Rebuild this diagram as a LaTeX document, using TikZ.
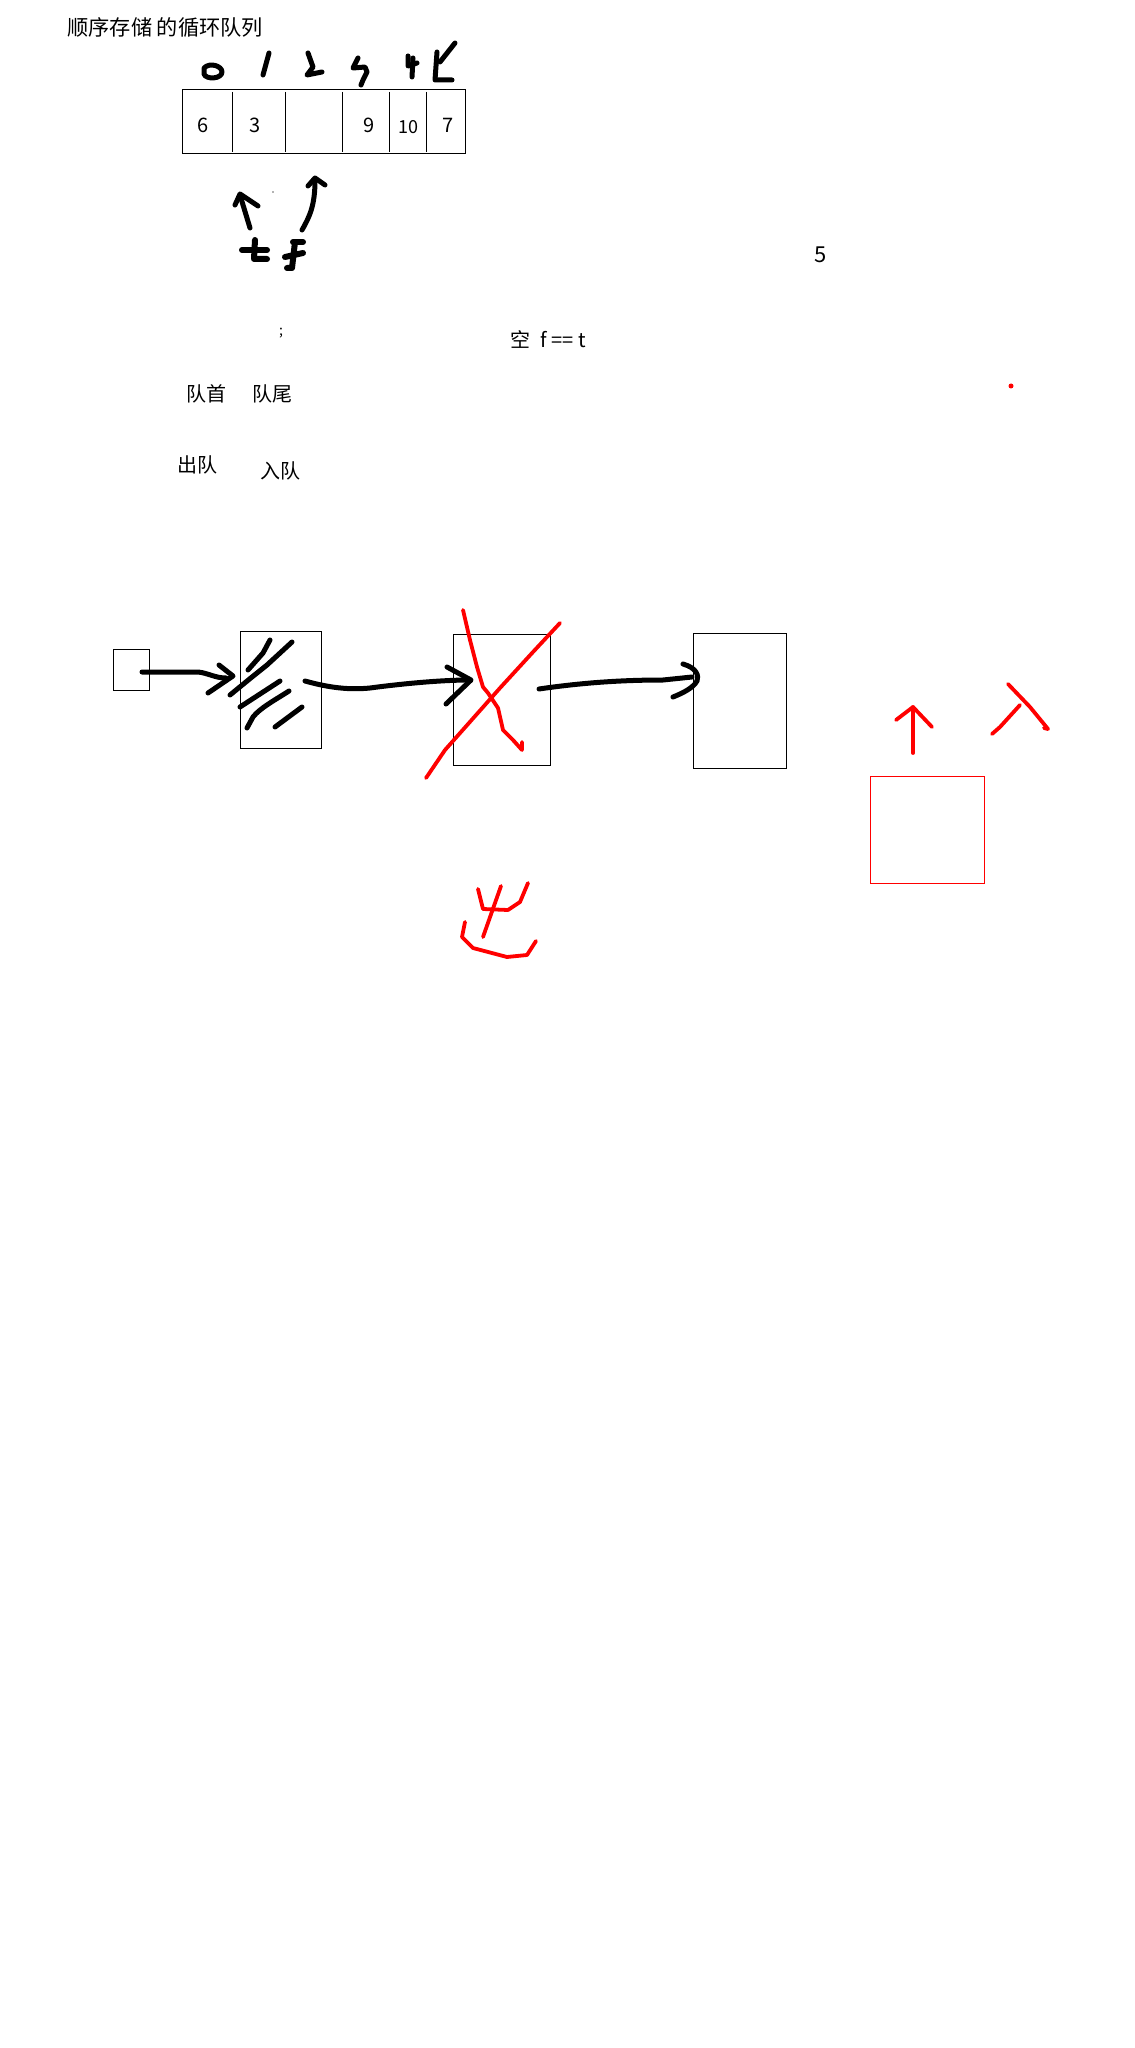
\documentclass[tikz,border=0pt]{standalone}
\usepackage{fontspec}
\setmainfont{Noto Sans CJK SC}
\usepackage{xcolor}
\usetikzlibrary{positioning,calc}
\definecolor{Ink}{HTML}{000000}
\definecolor{Pen}{HTML}{FF0000}
\tikzset{
  cellbox/.style={draw=Ink, line width=0.5pt, inner sep=0pt},
  redbox/.style={draw=Pen, line width=0.5pt, inner sep=0pt},
  inkpen/.style={draw=Ink, line width=2.5pt, line cap=round, line join=round},
  redpen/.style={draw=Pen, line width=1.9pt, line cap=round, line join=round},
  plaintext/.style={inner sep=0pt, text=Ink, font=\fontsize{10}{12}\selectfont},
}

\begin{document}
\begin{tikzpicture}[x=0.5pt,y=-0.5pt]
\path[use as bounding box,fill=white] (0,0) rectangle (1134,2048);

% title
\node[plaintext,anchor=west,font=\fontsize{10.6}{12}\selectfont] (title) at (67,27) {顺序存储 的循环队列};

% array with its cells
\node[cellbox,minimum width=141.5pt,minimum height=32pt] (arr) at (323.5,122) {};
\foreach \x in {232,285,342,389,426}{
  \draw[Ink,line width=0.5pt] (\x,92) -- (\x,152);
}
\foreach \x/\v/\nm in {203/6/c0,255/3/c1,369/9/c3,448/7/c5}{
  \node[plaintext] (\nm) at (\x,125) {\v};
}
\node[plaintext,font=\fontsize{9}{11}\selectfont] (c4) at (408,127) {10};

% handwritten indices
\draw[inkpen] (204,68) .. controls (210,62) and (222,66) .. (222,72) .. controls (222,79) and (206,80) .. (204,74) -- cycle;
\draw[inkpen] (269,53) -- (263,75);
\draw[inkpen] (308,53) -- (313,67) -- (307,75) -- (322,72);
\draw[inkpen] (358,58) -- (353,68) -- (365,67) -- (367,72) -- (363,80) -- (361,85);
\draw[inkpen] (408,56) -- (408,66) -- (417,63);
\draw[inkpen] (413,58) -- (412,77);
\draw[inkpen] (437,52) -- (435,80) -- (452,80);
\draw[inkpen] (455,43) -- (440,62);

% rear and front pointers
\draw[inkpen] (250,228) -- (240,195);
\draw[inkpen] (235,205) -- (240,194) -- (258,206);
\draw[inkpen] (302,230) .. controls (310,216) and (315,205) .. (315,180);
\draw[inkpen] (308,186) -- (315,178) -- (325,185);
\fill[Ink!60] (273,192) circle (0.9);
\draw[inkpen,line width=3pt] (242,250) -- (267,250);
\draw[inkpen,line width=3pt] (255,240) -- (254,259) -- (267,259);
\draw[inkpen,line width=3pt] (293,242) -- (303,242);
\draw[inkpen,line width=3pt] (295,242) -- (292,268) -- (287,268);
\draw[inkpen,line width=3pt] (285,257) -- (303,253);

% notes
\node[plaintext,font=\fontsize{11}{13}\selectfont] (five) at (821,255) {5};
\node[plaintext,font=\fontsize{7}{8}\selectfont] (semi) at (281,333) {;};
\node[plaintext] (empty) at (548,340) {空\enspace f == t};
\node[plaintext] (head) at (206,394) {队首};
\node[plaintext] (tail) at (272,394) {队尾};
\node[plaintext] (deq) at (197,465) {出队};
\node[plaintext] (enq) at (280,471) {入队};
\fill[Pen] (1011,386) circle (2.5);

% linked queue
\node[cellbox,minimum width=18pt,minimum height=20.5pt] (ptr) at (131,669.5) {};
\node[cellbox,minimum width=40.5pt,minimum height=58.5pt] (n1) at (280.5,689.5) {};
\node[cellbox,minimum width=48.5pt,minimum height=65.5pt] (n2) at (501.5,699.5) {};
\node[cellbox,minimum width=46.5pt,minimum height=67.5pt] (n3) at (739.5,700.5) {};
\node[redbox,minimum width=57pt,minimum height=53.5pt] (nnew) at (927,829.5) {};

\draw[inkpen] (142,672) -- (198,672) .. controls (208,673) and (215,678) .. (226,678);
\draw[inkpen] (219,665) -- (233,676) -- (208,693);

% scribbles in first node
\draw[inkpen] (270,640) -- (263,653) -- (248,670);
\draw[inkpen] (292,642) -- (267,665) -- (252,677) -- (230,695);
\draw[inkpen] (280,681) -- (240,707);
\draw[inkpen] (289,691) .. controls (275,700) and (260,708) .. (253,717) -- (247,728);
\draw[inkpen] (302,707) -- (275,727);

\draw[inkpen] (305,681) .. controls (330,688) and (350,690) .. (370,688) .. controls (400,684) and (440,680) .. (470,680);
\draw[inkpen] (447,667) -- (471,680) -- (446,704);

\draw[inkpen] (539,689) .. controls (580,683) and (620,680) .. (663,680) -- (692,677);
\draw[inkpen] (683,664) .. controls (697,668) and (699,676) .. (697,681) .. controls (693,688) and (683,693) .. (673,697);

% crossed out node
\draw[redpen] (463,610) -- (470,640) -- (477,667) -- (483,687) -- (488,693) -- (498,708) -- (503,730) -- (513,740) -- (522,750) -- (522,742);
\draw[redpen] (560,623) -- (533,652) -- (500,688) -- (445,750) -- (426,778);

% red marks
\draw[redpen] (913,753) -- (913,707);
\draw[redpen] (896,720) -- (913,707) -- (932,727);
\draw[redpen] (1008,684) -- (1030,707) -- (1048,729) -- (1044,728);
\draw[redpen] (1020,705) -- (1000,727) -- (992,734);
\draw[redpen] (478,889) -- (483,909) -- (508,910) -- (520,902) -- (528,883);
\draw[redpen] (501,886) -- (483,937);
\draw[redpen] (465,922) -- (462,937) -- (473,948) -- (507,957) -- (527,955) -- (536,941);
\end{tikzpicture}
\end{document}
